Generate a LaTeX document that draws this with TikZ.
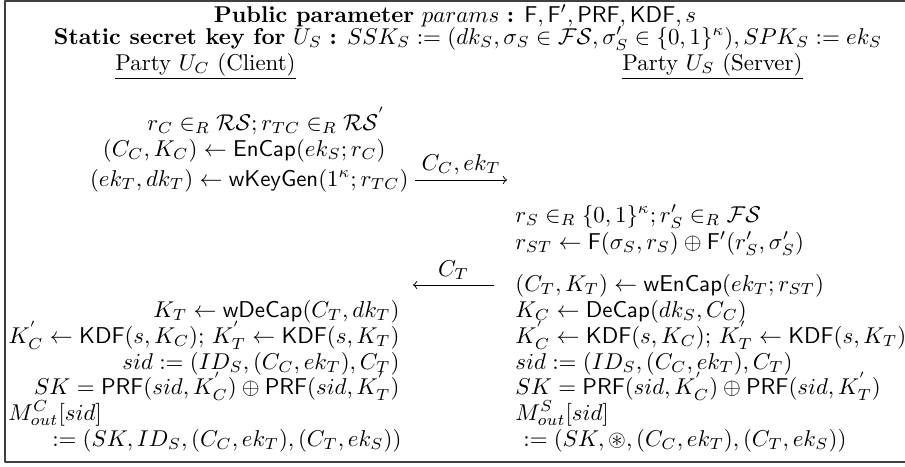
\documentclass[tikz,border=0pt]{standalone}
\usepackage{amsmath,amssymb}
\newcommand{\alg}[1]{\mathsf{#1}}

\begin{document}
\begin{tikzpicture}[x=0.437pt, y=-0.437pt, >=to, line join=round,
  lft/.style={anchor=base east, inner sep=0pt},
  rgt/.style={anchor=base west, inner sep=0pt},
  msg/.style={->, line width=0.4pt}]
  % Frame (right side runs off the page)
  \useasboundingbox (0,0) rectangle (905,466);
  \draw[line width=0.6pt, black!75] (905,1) -- (5,1) -- (5,462) -- (905,462);

  % Header
  \node[anchor=base, inner sep=0pt] (pub) at (455,22)
    {\textbf{Public parameter} $params$ \textbf{:} $\alg{F}, \alg{F}', \alg{PRF}, \alg{KDF}, s$};
  \node[anchor=base, inner sep=0pt] (ssk) at (468,44)
    {\textbf{Static secret key for} $U_S$ \textbf{:} $SSK_S := (dk_S, \sigma_S \in \mathcal{FS}, \sigma'_S \in \{0,1\}^\kappa), SPK_S := ek_S$};
  \node[rgt] (pc) at (115,70) {\underline{Party $U_C$ (Client)}};
  \node[rgt] (ps) at (622,70) {\underline{Party $U_S$ (Server)}};

  % Client side
  \node[lft] (rc) at (386,130) {$r_C \in_R \mathcal{RS}; r_{TC} \in_R \mathcal{RS}^{'}$};
  \node[lft] (encap) at (386,156) {$(C_C, K_C) \gets \alg{EnCap}(ek_S; r_C)$};
  \node[lft] (keygen) at (409,186) {$(ek_T, dk_T) \gets \alg{wKeyGen}(1^\kappa; r_{TC})$};
  \node[lft] (wdecap) at (400,317) {$K_T \gets \alg{wDeCap}(C_T, dk_T)$};
  \node[lft] (kdfc) at (400,343) {$K^{'}_C \gets \alg{KDF}(s, K_C)$; $K^{'}_T \gets \alg{KDF}(s, K_T)$};
  \node[lft] (sidc) at (400,369) {$sid := (ID_S, (C_C, ek_T), C_T)$};
  \node[lft] (skc) at (400,394) {$SK = \alg{PRF}(sid, K^{'}_C) \oplus \alg{PRF}(sid, K^{'}_T)$};
  \node[rgt] (moutc) at (8,420) {$M^C_{out}[sid]$};
  \node[lft] (outc) at (402,446) {$:= (SK, ID_S, (C_C, ek_T), (C_T, ek_S))$};

  % Server side
  \node[rgt] (rs) at (515,222) {$r_S \in_R \{0,1\}^\kappa; r'_S \in_R \mathcal{FS}$};
  \node[rgt] (rst) at (515,249) {$r_{ST} \gets \alg{F}(\sigma_S, r_S) \oplus \alg{F}'(r'_S, \sigma'_S)$};
  \node[rgt] (wencap) at (515,291) {$(C_T, K_T) \gets \alg{wEnCap}(ek_T; r_{ST})$};
  \node[rgt] (decap) at (515,317) {$K_C \gets \alg{DeCap}(dk_S, C_C)$};
  \node[rgt] (kdfs) at (515,343) {$K^{'}_C \gets \alg{KDF}(s, K_C)$; $K^{'}_T \gets \alg{KDF}(s, K_T)$};
  \node[rgt] (sids) at (515,369) {$sid := (ID_S, (C_C, ek_T), C_T)$};
  \node[rgt] (sks) at (515,394) {$SK = \alg{PRF}(sid, K^{'}_C) \oplus \alg{PRF}(sid, K^{'}_T)$};
  \node[rgt] (mouts) at (515,420) {$M^S_{out}[sid]$};
  \node[rgt] (outs) at (523,446) {$:= (SK, \circledast, (C_C, ek_T), (C_T, ek_S))$};

  % Messages
  \coordinate (m1a) at (415,180);
  \coordinate (m1b) at (507,180);
  \draw[msg] (m1a) -- node[above, inner sep=2pt] {$C_C, ek_T$} (m1b);
  \coordinate (m2a) at (413,285);
  \coordinate (m2b) at (494,285);
  \draw[msg] (m2b) -- node[above, inner sep=2pt] {$C_T$} (m2a);
\end{tikzpicture}
\end{document}
